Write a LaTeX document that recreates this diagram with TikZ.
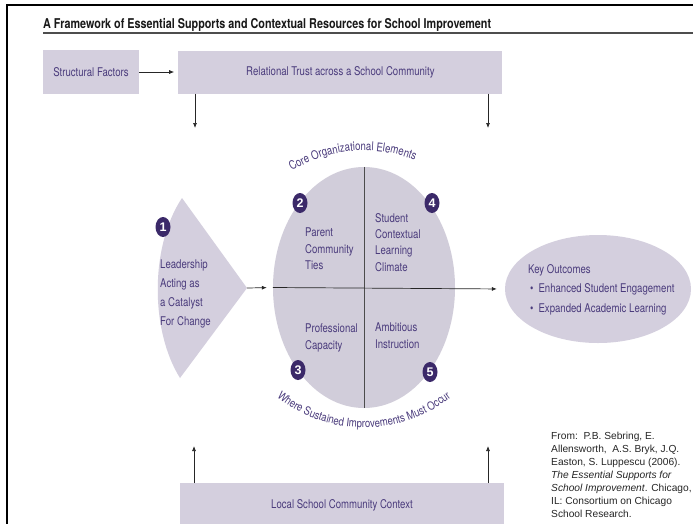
\documentclass[tikz,border=0pt]{standalone}
\usepackage{fontspec}
\setmainfont{Liberation Sans}
\newfontfamily\narrowfont[FakeStretch=0.8]{TeX Gyre Heros}
\newfontfamily\arcfont[FakeStretch=0.83]{TeX Gyre Heros}
\usetikzlibrary{arrows.meta, positioning, shapes.geometric, decorations.text}
\definecolor{boxfill}{HTML}{D4CFDE}
\definecolor{corefill}{HTML}{D1CDDA}
\definecolor{inkpurple}{HTML}{4A3B7C}
\definecolor{badgepurple}{HTML}{3B2969}
\definecolor{rulegray}{HTML}{4D4D4D}

\begin{document}
\begin{tikzpicture}[
    x=1pt, y=-1pt,
    every node/.style={font=\narrowfont\fontsize{12}{15}\selectfont, text=inkpurple},
    title_text/.style={font=\narrowfont\bfseries\fontsize{13.5}{15}\selectfont, text=black!90, inner sep=0pt},
    ctx_box/.style={rectangle, fill=boxfill, inner sep=0pt},
    quad_text/.style={anchor=north west, align=left, inner sep=0pt,
        font=\narrowfont\fontsize{12}{16.3}\selectfont},
    badge/.style={ellipse, fill=badgepurple, minimum width=15pt, minimum height=20pt,
        inner sep=0pt, text=white, font=\bfseries\fontsize{12.5}{12.5}\selectfont},
    source_note/.style={anchor=north west, align=left, inner sep=0pt,
        font=\fontsize{10.2}{12.9}\selectfont, text=black!85},
    divider/.style={draw=black!70, line width=0.6pt},
    arrow/.style={line width=0.7pt, black!85, -{Latex[length=5pt, width=4pt]}}
]

\fill[white] (0,0) rectangle (693,523);
\useasboundingbox (0,0) rectangle (693,523);
\draw[line width=1.6pt] (7,524) -- (7,5) -- (694,5);

\node[title_text, anchor=base west] (title) at (43,28) {A Framework of Essential Supports and Contextual Resources for School Improvement};
\draw[rulegray, line width=1.3pt] (43,33) -- (693,33);

\node[ctx_box, minimum width=96pt, minimum height=44pt] (structural) at (91,72) {Structural Factors};
\node[ctx_box, minimum width=324pt, minimum height=43pt, right=39pt of structural] (trust) {Relational Trust across a School Community};
\node[ctx_box, minimum width=324pt, minimum height=44pt, anchor=north] (local) at (342,483) {Local School Community Context};

\coordinate (trust_l) at (195,128);
\coordinate (trust_r) at (488,128);
\coordinate (local_l) at (194,446);
\coordinate (local_r) at (488,446);

\draw[arrow, shorten >=4pt] (structural) -- (trust);
\draw[arrow] (trust.south -| trust_l) -- (trust_l);
\draw[arrow] (trust.south -| trust_r) -- (trust_r);
\draw[arrow] (local.north -| local_l) -- (local_l);
\draw[arrow] (local.north -| local_r) -- (local_r);

\coordinate (lead_tip) at (247,288);
\fill[boxfill] (182,198) -- (lead_tip) -- (180,378) .. controls (150,330) and (150,246) .. (182,198) -- cycle;
\node[quad_text, font=\narrowfont\fontsize{12}{19}\selectfont] (leadership) at (160,260) {Leadership\\Acting as\\a Catalyst\\For Change};

\node[ellipse, fill=corefill, minimum width=182pt, minimum height=241pt, inner sep=0pt] (core) at (364,287.5) {};
\draw[divider] (core.north) -- (core.south);

\node[ellipse, fill=boxfill, minimum width=186pt, minimum height=108pt, inner sep=0pt] (outcomes) at (598,289) {};

\draw[arrow, shorten >=6pt] (lead_tip) -- (core.west);
\draw[arrow, shorten >=8pt] (core.west) -- (outcomes.west);

\node[quad_text] (ties) at (305,228) {Parent\\Community\\Ties};
\node[quad_text] (climate) at (375,213) {Student\\Contextual\\Learning\\Climate};
\node[quad_text] (capacity) at (305,324) {Professional\\Capacity};
\node[quad_text] (instruction) at (375,323) {Ambitious\\Instruction};

\node[badge] (lead_no) at (163,227) {1};
\node[badge] (ties_no) at (300,203) {2};
\node[badge] (capacity_no) at (298,370) {3};
\node[badge] (climate_no) at (432,203) {4};
\node[badge] (instruction_no) at (430,372) {5};

\path[decorate, decoration={text along path, text align=center,
    text={|\narrowfont\fontsize{12}{12}\selectfont\color{inkpurple}|Core Organizational Elements}}]
    (core.center) ++(-130:137) arc[start angle=-130, end angle=-60, radius=137];
\path[decorate, decoration={text along path, text align=center,
    text={|\arcfont\fontsize{11.5}{11.5}\selectfont\color{inkpurple}|Where Sustained Improvements Must Occur}}]
    (core.center) ++(136:140) arc[start angle=136, end angle=44, radius=140];

\node[anchor=north west, align=left, inner sep=0pt, font=\narrowfont\fontsize{12}{19.5}\selectfont] (outcome_list) at (528,264)
    {Key Outcomes\\\hspace*{2pt}\textbullet\hspace{5pt}Enhanced Student Engagement\\\hspace*{2pt}\textbullet\hspace{5pt}Expanded Academic Learning};

\node[source_note] (source) at (551,432) {From:\ \ P.B. Sebring, E.\\Allensworth,\ \ A.S. Bryk, J.Q.\\Easton, S. Luppescu (2006).\\\textit{The Essential Supports for}\\\textit{School Improvement}. Chicago,\\IL: Consortium on Chicago\\School Research.};

\end{tikzpicture}
\end{document}
